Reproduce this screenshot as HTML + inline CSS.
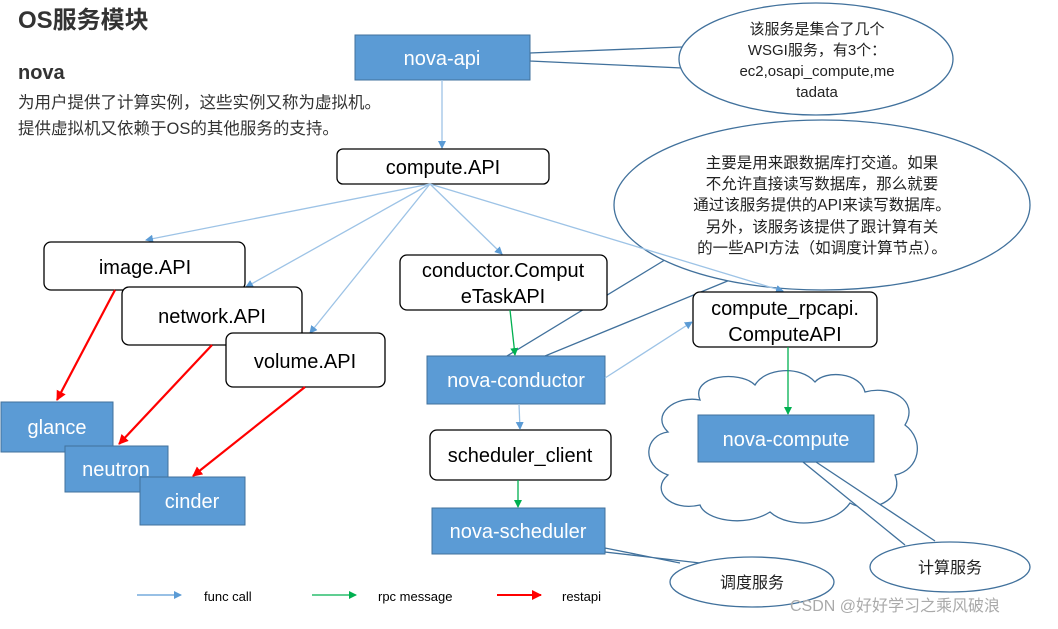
<!DOCTYPE html>
<html><head><meta charset="utf-8"><style>
body{margin:0;background:#fff}
svg text{font-family:"Liberation Sans","Noto Sans CJK SC",sans-serif}
</style></head><body>
<svg width="1058" height="624" viewBox="0 0 1058 624" xmlns="http://www.w3.org/2000/svg">
<defs>
<marker id="ab" markerWidth="8" markerHeight="8" refX="7" refY="4" orient="auto" markerUnits="userSpaceOnUse"><path d="M0,0 L8,4 L0,8z" fill="#5b9bd5"/></marker>
<marker id="ag" markerWidth="8" markerHeight="8" refX="7" refY="4" orient="auto" markerUnits="userSpaceOnUse"><path d="M0,0 L8,4 L0,8z" fill="#00b050"/></marker>
<marker id="ar" markerWidth="10" markerHeight="10" refX="9" refY="5" orient="auto" markerUnits="userSpaceOnUse"><path d="M0,0 L10,5 L0,10z" fill="#ff0000"/></marker>
</defs>
<text x="18" y="28" font-size="24" font-weight="bold" fill="#333">OS服务模块</text>
<text x="18" y="79" font-size="20" font-weight="bold" fill="#333">nova</text>
<text x="18" y="108" font-size="16.5" fill="#333">为用户提供了计算实例，这些实例又称为虚拟机。</text>
<text x="18" y="134" font-size="16.5" fill="#333">提供虚拟机又依赖于OS的其他服务的支持。</text>

<!-- callout 1 -->
<path d="M682,47 L530,53 L530,61 L682,68" fill="#fff" stroke="#41719c" stroke-width="1.3"/>
<ellipse cx="816" cy="59" rx="137" ry="56" fill="#fff" stroke="#41719c" stroke-width="1.3"/>
<g font-size="15" fill="#222" text-anchor="middle">
<text x="817" y="34">该服务是集合了几个</text>
<text x="817" y="55">WSGI服务，有3个：</text>
<text x="817" y="76">ec2,osapi_compute,me</text>
<text x="817" y="97">tadata</text>
</g>

<rect x="355" y="35" width="175" height="45" fill="#5b9bd5" stroke="#41719c"/>
<text x="442" y="65" font-size="20" fill="#fff" text-anchor="middle">nova-api</text>
<line x1="442" y1="80" x2="442" y2="148" stroke="#9dc3e6" stroke-width="1.3" marker-end="url(#ab)"/>

<!-- callout 2 tail -->
<path d="M668,258 L507,356 L545,356 L730,280" fill="#fff" stroke="#41719c" stroke-width="1.3"/>

<rect x="337" y="149" width="212" height="35" rx="6" fill="#fff" stroke="#000" stroke-width="1.3"/>
<text x="443" y="174" font-size="20" text-anchor="middle">compute.API</text>

<g stroke="#9dc3e6" stroke-width="1.3" fill="none">
<line x1="430" y1="184" x2="146" y2="240" marker-end="url(#ab)"/>
<line x1="430" y1="184" x2="246" y2="287" marker-end="url(#ab)"/>
<line x1="430" y1="184" x2="310" y2="333" marker-end="url(#ab)"/>
<line x1="430" y1="184" x2="502" y2="254" marker-end="url(#ab)"/>
</g>

<ellipse cx="822" cy="205" rx="208" ry="85" fill="#fff" stroke="#41719c" stroke-width="1.3"/>
<g font-size="15.5" fill="#222" text-anchor="middle">
<text x="822" y="168">主要是用来跟数据库打交道。如果</text>
<text x="822" y="189">不允许直接读写数据库，那么就要</text>
<text x="822" y="210">通过该服务提供的API来读写数据库。</text>
<text x="822" y="232">另外，该服务该提供了跟计算有关</text>
<text x="822" y="253">的一些API方法（如调度计算节点）。</text>
</g>
<line x1="430" y1="184" x2="783" y2="291" stroke="#9dc3e6" stroke-width="1.3" marker-end="url(#ab)"/>

<!-- cloud -->
<path d="M700,400 C690,375 740,370 755,385 C765,368 800,365 815,382 C825,370 860,372 865,392 C890,385 920,400 905,425 C925,440 920,470 895,475 C905,500 870,515 850,503 C835,525 790,530 770,512 C745,528 705,520 700,505 C670,512 650,490 668,475 C640,465 645,435 668,432 C650,415 675,395 700,400 Z" fill="#fff" stroke="#41719c" stroke-width="1.3"/>

<!-- callouts bottom -->
<path d="M905,545 L803,462 L816,462 L935,541" fill="#fff" stroke="#41719c" stroke-width="1.3"/>
<ellipse cx="950" cy="567" rx="80" ry="25" fill="#fff" stroke="#41719c" stroke-width="1.3"/>
<text x="950" y="573" font-size="16" text-anchor="middle" fill="#222">计算服务</text>
<path d="M680,563 L605,548 L605,552 L700,563" fill="#fff" stroke="#41719c" stroke-width="1.3"/>
<ellipse cx="752" cy="582" rx="82" ry="25" fill="#fff" stroke="#41719c" stroke-width="1.3"/>
<text x="752" y="588" font-size="16" text-anchor="middle" fill="#222">调度服务</text>

<!-- boxes -->
<g fill="#fff" stroke="#000" stroke-width="1.3">
<rect x="44" y="242" width="201" height="48" rx="7"/>
<rect x="122" y="287" width="180" height="58" rx="7"/>
<rect x="226" y="333" width="159" height="54" rx="7"/>
<rect x="400" y="255" width="207" height="55" rx="7"/>
<rect x="693" y="292" width="184" height="55" rx="7"/>
<rect x="430" y="430" width="181" height="50" rx="7"/>
</g>
<g font-size="20" text-anchor="middle">
<text x="145" y="274">image.API</text>
<text x="212" y="323">network.API</text>
<text x="305" y="368">volume.API</text>
<text x="503" y="277">conductor.Comput</text>
<text x="503" y="303">eTaskAPI</text>
<text x="785" y="315">compute_rpcapi.</text>
<text x="785" y="341">ComputeAPI</text>
<text x="520" y="462">scheduler_client</text>
</g>

<g fill="#5b9bd5" stroke="#41719c">
<rect x="427" y="356" width="178" height="48"/>
<rect x="432" y="508" width="173" height="46"/>
<rect x="1" y="402" width="112" height="50"/>
<rect x="65" y="446" width="103" height="46"/>
<rect x="140" y="477" width="105" height="48"/>
<rect x="698" y="415" width="176" height="47"/>
</g>
<g font-size="20" fill="#fff" text-anchor="middle">
<text x="516" y="387">nova-conductor</text>
<text x="518" y="538">nova-scheduler</text>
<text x="57" y="434">glance</text>
<text x="116" y="476">neutron</text>
<text x="192" y="508">cinder</text>
<text x="786" y="446">nova-compute</text>
</g>

<!-- red -->
<g stroke="#ff0000" stroke-width="2.2">
<line x1="115" y1="290" x2="57" y2="400" marker-end="url(#ar)"/>
<line x1="212" y1="345" x2="119" y2="444" marker-end="url(#ar)"/>
<line x1="305" y1="387" x2="193" y2="476" marker-end="url(#ar)"/>
</g>
<!-- green -->
<g stroke="#00b050" stroke-width="1.3">
<line x1="510" y1="310" x2="515" y2="355" marker-end="url(#ag)"/>
<line x1="788" y1="347" x2="788" y2="414" marker-end="url(#ag)"/>
<line x1="518" y1="480" x2="518" y2="507" marker-end="url(#ag)"/>
</g>
<g stroke="#9dc3e6" stroke-width="1.3">
<line x1="519" y1="404" x2="520" y2="429" marker-end="url(#ab)"/>
<line x1="605" y1="378" x2="692" y2="322" marker-end="url(#ab)"/>
</g>

<!-- legend -->
<line x1="137" y1="595" x2="181" y2="595" stroke="#5b9bd5" stroke-width="1.3" marker-end="url(#ab)"/>
<text x="204" y="601" font-size="13">func call</text>
<line x1="312" y1="595" x2="356" y2="595" stroke="#00b050" stroke-width="1.3" marker-end="url(#ag)"/>
<text x="378" y="601" font-size="13">rpc message</text>
<line x1="497" y1="595" x2="541" y2="595" stroke="#ff0000" stroke-width="2" marker-end="url(#ar)"/>
<text x="562" y="601" font-size="13">restapi</text>

<text x="790" y="611" font-size="16" fill="#aaa">CSDN @好好学习之乘风破浪</text>
</svg>
</body></html>
